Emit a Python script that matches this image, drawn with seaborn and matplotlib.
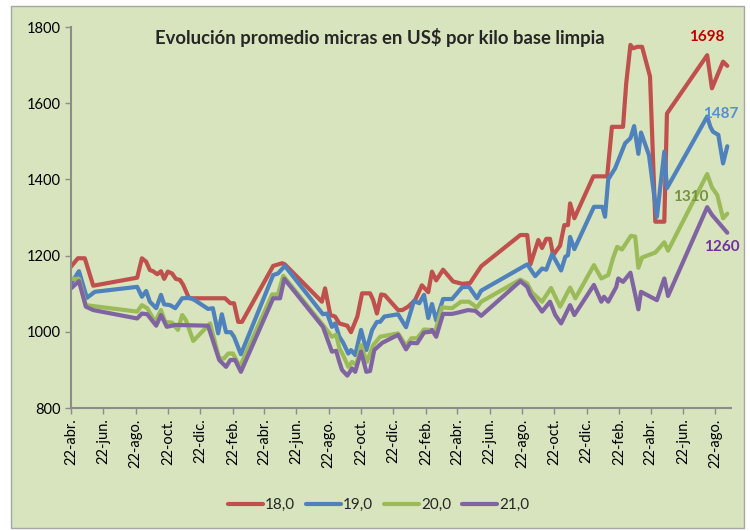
import pandas as pd
import seaborn as sns
import matplotlib.pyplot as plt
from matplotlib.patches import Rectangle

# precios promedio (US$/kg base limpia), días desde el 22-abr-2020
inicio = pd.Timestamp("2020-04-22")

dias_18 = [0, 13, 26, 42, 125, 134, 142, 149, 155, 163, 170, 176, 183, 191, 198, 206, 212, 223,
           291, 301, 308, 316, 323, 382, 399, 404, 474, 480, 490, 499, 507, 522, 529, 541, 550,
           565, 571, 578, 586, 593, 618, 626, 637, 650, 663, 675, 682, 690, 703, 722, 739, 754,
           775, 849, 862, 868, 883, 890, 898, 905, 911, 924, 932, 939, 943, 951, 987, 1013, 1022,
           1043, 1049, 1057, 1062, 1070, 1079, 1094, 1104, 1121, 1126, 1202, 1211, 1232, 1240]
micras_18 = [1171, 1193, 1193, 1121, 1142, 1193, 1184, 1162, 1159, 1151, 1159, 1139, 1158, 1153,
             1139, 1136, 1123, 1088, 1088, 1075, 1075, 1026, 1026, 1173, 1180, 1177, 1079, 1114,
             1044, 1040, 1022, 1016, 999, 1040, 1101, 1101, 1083, 1048, 1098, 1096, 1057, 1057,
             1066, 1083, 1122, 1104, 1158, 1135, 1163, 1132, 1126, 1128, 1172, 1254, 1254, 1177,
             1241, 1220, 1244, 1244, 1201, 1226, 1280, 1280, 1337, 1298, 1408, 1408, 1538, 1538,
             1652, 1753, 1744, 1748, 1748, 1670, 1289, 1289, 1573, 1726, 1639, 1709, 1698]

dias_19 = [0, 15, 30, 45, 125, 134, 142, 149, 161, 170, 176, 187, 197, 210, 225, 234, 259, 268,
           278, 285, 293, 302, 308, 321, 382, 391, 404, 476, 484, 493, 499, 507, 514, 524, 529,
           537, 548, 558, 569, 578, 584, 592, 618, 633, 648, 658, 667, 675, 682, 690, 703, 720,
           739, 752, 767, 775, 862, 877, 890, 898, 909, 926, 934, 939, 943, 951, 988, 1004, 1009,
           1015, 1028, 1047, 1057, 1064, 1072, 1077, 1092, 1107, 1121, 1126, 1202, 1208, 1213,
           1223, 1232, 1240]
micras_19 = [1127, 1159, 1089, 1105, 1118, 1092, 1107, 1079, 1062, 1097, 1072, 1070, 1062, 1088,
             1089, 1083, 1060, 1062, 996, 1046, 999, 999, 987, 941, 1149, 1153, 1173, 1046, 1048,
             1013, 1022, 987, 972, 943, 952, 939, 1005, 952, 1005, 1026, 1026, 1040, 1046, 1012,
             1081, 1075, 1097, 1036, 1073, 1030, 1086, 1086, 1117, 1118, 1088, 1108, 1177, 1146,
             1166, 1163, 1204, 1161, 1197, 1201, 1249, 1217, 1328, 1328, 1302, 1400, 1429, 1495,
             1508, 1540, 1467, 1523, 1464, 1302, 1473, 1377, 1565, 1538, 1525, 1517, 1442, 1487]

dias_20 = [0, 15, 28, 125, 134, 144, 159, 170, 178, 191, 202, 210, 217, 231, 263, 266, 280, 289,
           297, 306, 319, 380, 391, 401, 476, 493, 501, 507, 514, 524, 531, 539, 548, 559, 571,
           584, 618, 633, 643, 654, 667, 679, 688, 701, 720, 737, 752, 767, 775, 849, 862, 871,
           890, 907, 924, 943, 953, 988, 1002, 1015, 1024, 1032, 1041, 1058, 1066, 1072, 1079,
           1104, 1121, 1128, 1202, 1211, 1221, 1232, 1240]
micras_20 = [1139, 1139, 1070, 1053, 1070, 1062, 1026, 1057, 1026, 1024, 1005, 1044, 1031, 976,
             1022, 1005, 930, 930, 943, 943, 908, 1098, 1098, 1147, 1018, 987, 992, 957, 939, 908,
             921, 913, 965, 921, 965, 987, 996, 963, 983, 983, 1006, 1005, 1000, 1064, 1062, 1079,
             1079, 1064, 1079, 1137, 1127, 1103, 1079, 1115, 1066, 1116, 1088, 1175, 1140, 1149,
             1193, 1223, 1216, 1252, 1250, 1168, 1195, 1208, 1235, 1213, 1414, 1379, 1359, 1298,
             1310]

dias_21 = [0, 15, 28, 42, 125, 134, 144, 161, 170, 181, 197, 259, 280, 293, 301, 310, 321, 382,
           395, 403, 476, 493, 501, 507, 512, 522, 531, 537, 548, 558, 565, 573, 588, 618, 633,
           641, 654, 667, 679, 682, 690, 703, 720, 730, 750, 764, 775, 849, 862, 868, 890, 905,
           915, 926, 943, 951, 988, 1002, 1007, 1015, 1030, 1034, 1043, 1057, 1072, 1077, 1107,
           1121, 1128, 1202, 1211, 1240]
micras_21 = [1114, 1133, 1066, 1057, 1035, 1048, 1046, 1016, 1044, 1013, 1018, 1016, 926, 908, 926,
             926, 895, 1088, 1088, 1139, 1013, 948, 950, 921, 900, 885, 904, 895, 948, 895, 897,
             952, 971, 992, 954, 971, 970, 998, 1000, 1005, 987, 1047, 1047, 1050, 1057, 1055,
             1042, 1133, 1118, 1097, 1053, 1079, 1044, 1022, 1070, 1044, 1123, 1079, 1092, 1079,
             1117, 1140, 1131, 1155, 1059, 1105, 1083, 1140, 1094, 1327, 1307, 1260]

series = ["18,0", "19,0", "20,0", "21,0"]
colores = ["#C0504D", "#4F81BD", "#9BBB59", "#8064A2"]
colores_etiqueta = ["#C00000", "#558ED5", "#76923C", "#7030A0"]
meses = ["abr.", "jun.", "ago.", "oct.", "dic.", "feb."]

frames = []
for nombre, dias, vals in zip(series, [dias_18, dias_19, dias_20, dias_21],
                              [micras_18, micras_19, micras_20, micras_21]):
    frames.append(pd.DataFrame({
        "fecha": inicio + pd.to_timedelta(dias, unit="D"),
        "precio": vals,
        "micras": nombre,
    }))
df = pd.concat(frames, ignore_index=True)

sns.set_theme(style="ticks")
plt.rcParams["font.family"] = ["Lato", "DejaVu Sans"]

verde = "#D7E4BD"
fig = plt.figure(figsize=(7.5, 5.31), dpi=100, facecolor="white")
fig.patches.append(Rectangle((11 / 750, 3 / 531), 733 / 750, 522 / 531, transform=fig.transFigure,
                             facecolor=verde, edgecolor="#A6A6A6", lw=1, zorder=-10))
ax = fig.add_axes([71 / 750, 1 - 408 / 531, 660 / 750, 381 / 531])
ax.set_zorder(5)
ax.set_facecolor(verde)

sns.lineplot(data=df, x="fecha", y="precio", hue="micras", palette=colores,
             linewidth=3, ax=ax, sort=False)

ax.set_ylim(800, 1800)
ax.set_yticks(range(800, 1801, 200))
ax.set_xlim(inicio, inicio + pd.Timedelta(days=1247))
ticks = [inicio + pd.DateOffset(months=2 * i) for i in range(21)]
ax.set_xticks(ticks)
ax.set_xticklabels(["22-" + meses[i % 6] for i in range(21)], rotation=90)
ax.set_xlabel("")
ax.set_ylabel("")
for s in ["top", "right"]:
    ax.spines[s].set_visible(False)
for s in ["left", "bottom"]:
    ax.spines[s].set_color("#8C8C8C")
    ax.spines[s].set_linewidth(1.5)
ax.tick_params(axis="both", colors="#8C8C8C", length=4, width=1, labelsize=10.5,
               labelcolor="black")

# etiquetas del último valor
desplaz = [(-15, 21), (-5, 23), (-26, 12), (-4, -10)]
for vals, dias, c, (dx, dy) in zip([micras_18, micras_19, micras_20, micras_21],
                                   [dias_18, dias_19, dias_20, dias_21], colores_etiqueta, desplaz):
    ax.annotate(str(vals[-1]), (inicio + pd.Timedelta(days=dias[-1]), vals[-1]),
                xytext=(dx, dy), textcoords="offset points", ha="center", va="center",
                color=c, fontsize=11, fontweight="bold")

fig.text(380 / 750, 1 - 37 / 531, "Evolución promedio micras en US$ por kilo base limpia",
         ha="center", va="center", fontsize=13.3, fontweight="bold", zorder=10)

leg = ax.legend(loc="center", bbox_to_anchor=(0.505, 0.049), bbox_transform=fig.transFigure,
                ncol=4, frameon=False, handlelength=2.3, columnspacing=0.7, handletextpad=0.15,
                fontsize=11)

fig.savefig("out.png", dpi=100, facecolor="white")
